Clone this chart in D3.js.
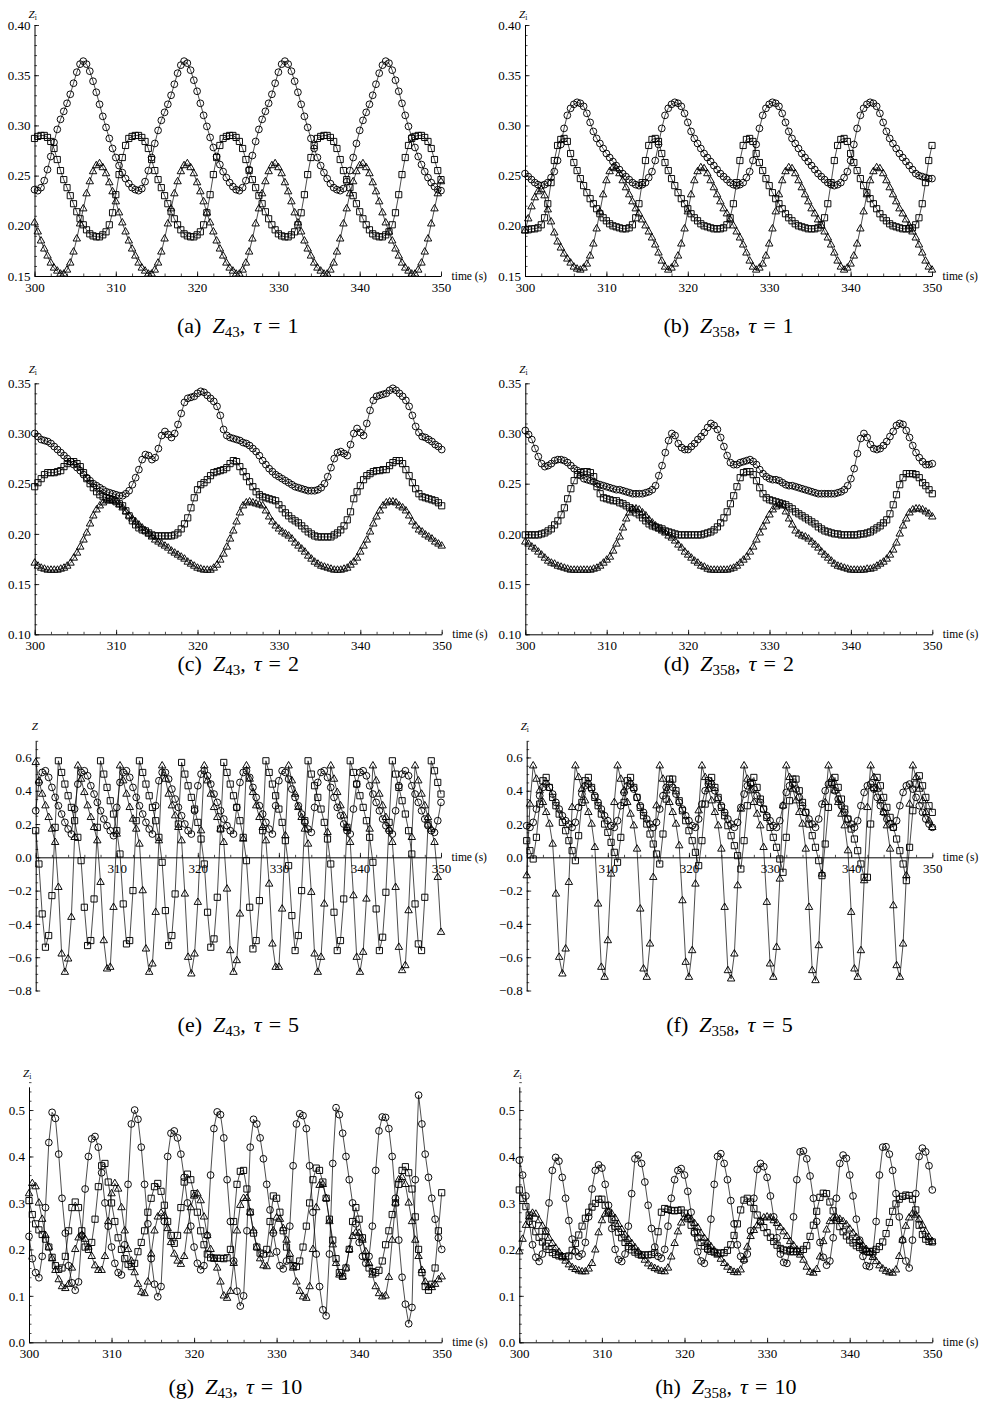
<!DOCTYPE html>
<html lang="en">
<head>
<meta charset="UTF-8">
<title>Z_i time series, tau = 1, 2, 5, 10</title>
<script src="https://cdn.jsdelivr.net/npm/d3@7"></script>
<style>
  body { margin: 0; background: #fff; }
  svg text { fill: #000; }
</style>
</head>
<body>
<svg id="fig" width="984" height="1404"></svg>
<script>
// ---- values, one sample every 0.4 s from 300 s to 350 s ----

const timeTicks = [300, 310, 320, 330, 340, 350];
const ticksTau1 = [0.15, 0.20, 0.25, 0.30, 0.35, 0.40];
const ticksTau2 = [0.10, 0.15, 0.20, 0.25, 0.30, 0.35];
const ticksTau5 = [-0.8, -0.6, -0.4, -0.2, 0.0, 0.2, 0.4, 0.6];
const ticksTau10 = [0.0, 0.1, 0.2, 0.3, 0.4, 0.5];

const captionLetters = ["a", "b", "c", "d", "e", "f", "g", "h"];
const captionNodes = ["43", "358", "43", "358", "43", "358", "43", "358"];
const captionTaus = [1, 1, 2, 2, 5, 5, 10, 10];

// (a) Z43, tau = 1
const aCircle = [
  0.236,0.235,0.238,0.245,0.256,0.269,0.283,0.296,0.306,0.314,0.322,0.331,0.342,0.353,0.361,0.364,0.361,0.354,0.344,0.333,0.321,0.309,0.298,0.287,0.277,0.268,0.260,0.253,0.247,0.242,0.238,
  0.236,0.235,0.237,0.244,0.255,0.268,0.282,0.295,0.305,0.313,0.321,0.330,0.341,0.352,0.360,0.364,0.362,0.355,0.345,0.334,0.322,0.310,0.299,0.288,0.278,0.269,0.261,0.254,0.248,0.243,0.239,
  0.236,0.235,0.238,0.245,0.256,0.270,0.284,0.296,0.306,0.314,0.322,0.331,0.342,0.353,0.361,0.364,0.361,0.354,0.344,0.333,0.321,0.309,0.298,0.287,0.277,0.268,0.260,0.253,0.247,0.242,0.238,
  0.236,0.235,0.237,0.244,0.255,0.268,0.282,0.295,0.305,0.313,0.321,0.330,0.341,0.352,0.360,0.364,0.362,0.355,0.345,0.334,0.322,0.310,0.299,0.288,0.278,0.269,0.261,0.254,0.248,0.243,0.239,
  0.236,0.235
];
const aSquare = [
  0.287,0.289,0.290,0.290,0.288,0.284,0.277,0.266,0.255,0.246,0.238,0.230,0.222,0.214,0.207,0.201,0.196,0.192,0.190,0.189,0.189,0.191,0.194,0.201,0.213,0.231,0.251,0.268,0.280,
  0.287,0.289,0.290,0.290,0.288,0.284,0.277,0.266,0.255,0.246,0.238,0.230,0.222,0.214,0.207,0.201,0.196,0.192,0.190,0.189,0.189,0.191,0.194,0.201,0.213,0.231,0.251,0.268,0.280,
  0.287,0.289,0.290,0.290,0.288,0.284,0.277,0.266,0.255,0.246,0.238,0.230,0.222,0.214,0.207,0.201,0.196,0.192,0.190,0.189,0.189,0.191,0.194,0.201,0.213,0.231,0.251,0.268,0.280,
  0.287,0.289,0.290,0.290,0.288,0.284,0.277,0.266,0.255,0.246,0.238,0.230,0.222,0.214,0.207,0.201,0.196,0.192,0.190,0.189,0.189,0.191,0.194,0.201,0.213,0.231,0.251,0.268,0.280,
  0.287,0.289,0.290,0.290,0.288,0.284,0.277,0.266,0.255,0.246
];
const aTriangle = [
  0.203,0.194,0.185,0.177,0.170,0.163,0.158,0.155,0.152,0.152,0.156,0.163,0.174,0.187,0.202,0.217,0.232,0.244,0.254,0.260,0.262,0.258,0.252,0.243,0.234,0.224,0.213,
  0.203,0.194,0.185,0.177,0.170,0.163,0.158,0.155,0.152,0.152,0.156,0.163,0.174,0.187,0.202,0.217,0.232,0.244,0.254,0.260,0.262,0.258,0.252,0.243,0.234,0.224,0.213,
  0.203,0.194,0.185,0.177,0.170,0.163,0.158,0.155,0.152,0.152,0.156,0.163,0.174,0.187,0.202,0.217,0.232,0.244,0.254,0.260,0.262,0.258,0.252,0.243,0.234,0.224,0.213,
  0.203,0.194,0.185,0.177,0.170,0.163,0.158,0.155,0.152,0.152,0.156,0.163,0.174,0.187,0.202,0.217,0.232,0.244,0.254,0.260,0.262,0.258,0.252,0.243,0.234,0.224,0.213,
  0.203,0.194,0.185,0.177,0.170,0.163,0.158,0.155,0.152,0.152,0.156,0.163,0.174,0.187,0.202,0.217,0.232,0.244
];

// (b) Z358, tau = 1
const bCircle = [
  0.252,0.249,0.246,0.243,0.241,0.240,0.241,0.243,0.248,0.254,0.265,0.281,0.297,0.310,0.317,0.321,0.323,0.322,0.319,0.312,0.303,0.294,0.287,0.282,0.277,0.272,0.268,0.264,0.260,0.256,
  0.252,0.249,0.246,0.243,0.241,0.240,0.241,0.243,0.248,0.254,0.265,0.281,0.297,0.310,0.317,0.321,0.323,0.322,0.319,0.312,0.303,0.294,0.287,0.282,0.277,0.272,0.268,0.264,0.260,0.256,
  0.252,0.249,0.246,0.243,0.241,0.240,0.241,0.243,0.248,0.254,0.265,0.281,0.297,0.310,0.317,0.321,0.323,0.322,0.319,0.312,0.303,0.294,0.287,0.282,0.277,0.272,0.268,0.264,0.260,0.256,
  0.252,0.249,0.246,0.243,0.241,0.240,0.241,0.243,0.248,0.254,0.265,0.281,0.297,0.310,0.317,0.321,0.323,0.322,0.319,0.312,0.303,0.294,0.287,0.282,0.277,0.272,0.268,0.264,0.260,0.256,
  0.252,0.250,0.249,0.248,0.247,0.247
];
const bSquare = [
  0.196,0.196,0.197,0.197,
  0.198,0.201,0.208,0.222,0.243,0.265,0.280,0.286,0.287,0.284,0.272,0.263,0.255,0.247,0.240,0.233,0.227,0.222,0.217,0.212,0.208,0.205,0.202,0.200,0.199,0.198,0.197,0.197,
  0.198,0.201,0.208,0.222,0.243,0.265,0.280,0.286,0.287,0.284,0.272,0.263,0.255,0.247,0.240,0.233,0.227,0.222,0.217,0.212,0.208,0.205,0.202,0.200,0.199,0.198,0.197,0.197,
  0.197,
  0.198,0.201,0.208,0.222,0.243,0.265,0.280,0.286,0.287,0.284,0.272,0.263,0.255,0.247,0.240,0.233,0.227,0.222,0.217,0.212,0.208,0.205,0.202,0.200,0.199,0.198,0.197,0.197,
  0.197,
  0.198,0.201,0.208,0.222,0.243,0.265,0.280,0.286,0.287,0.284,0.272,0.263,0.255,0.247,0.240,0.233,0.227,0.222,0.217,0.212,0.208,0.205,0.202,0.200,0.199,0.198,0.197,0.197,
  0.197,
  0.198,0.201,0.208,0.222,0.243,0.265,0.280
];
const bTriangle = [
  0.195,0.207,0.219,0.228,0.234,0.236,0.230,0.216,0.204,0.193,0.184,0.178,0.172,0.167,0.163,0.159,0.157,
  0.156,0.158,0.162,0.170,0.182,0.197,0.214,0.231,0.245,0.254,0.258,0.257,0.252,0.245,0.238,0.231,0.224,0.217,0.212,0.206,0.200,0.194,0.188,0.181,0.173,0.165,0.159,
  0.156,0.158,0.162,0.170,0.182,0.197,0.214,0.231,0.245,0.254,0.258,0.257,0.252,0.245,0.238,0.231,0.224,0.217,0.212,0.206,0.200,0.194,0.188,0.181,0.173,0.165,0.159,
  0.156,0.158,0.162,0.170,0.182,0.197,0.214,0.231,0.245,0.254,0.258,0.257,0.252,0.245,0.238,0.231,0.224,0.217,0.212,0.206,0.200,0.194,0.188,0.181,0.173,0.165,0.159,
  0.156,0.158,0.162,0.170,0.182,0.197,0.214,0.231,0.245,0.254,0.258,0.257,0.252,0.245,0.238,0.231,0.224,0.217,0.212,0.206,0.200,0.194,0.188,0.181,0.173,0.165,0.159,
  0.156
];

// (c) Z43, tau = 2
const cCircle = [
  0.300,0.297,0.294,0.293,0.292,0.290,0.287,0.284,0.281,0.278,
  0.275,0.272,0.269,0.266,0.263,0.259,0.256,0.253,0.250,0.248,
  0.246,0.244,0.242,0.241,0.240,0.239,0.238,0.238,0.240,0.243,
  0.249,0.256,0.264,0.274,0.279,0.278,0.274,0.276,0.285,0.298,
  0.302,0.299,0.296,0.300,0.309,0.320,0.331,0.335,0.336,0.337,
  0.340,0.342,0.341,0.338,0.335,0.332,0.327,0.318,0.304,0.298,
  0.296,0.295,0.294,0.293,0.291,0.290,0.288,0.285,0.282,0.278,
  0.273,0.269,0.265,0.262,0.259,0.257,0.255,0.253,0.251,0.249,
  0.247,0.246,0.245,0.244,0.243,0.243,0.243,0.244,0.246,0.250,
  0.257,0.266,0.275,0.281,0.282,0.280,0.278,0.289,0.300,0.305,
  0.301,0.298,0.310,0.323,0.333,0.337,0.338,0.339,0.340,0.343,
  0.345,0.343,0.340,0.337,0.333,0.327,0.318,0.307,0.301,0.297,
  0.296,0.294,0.292,0.289,0.287,0.284
];
const cSquare = [
  0.247,0.251,0.255,0.259,0.261,0.261,0.261,0.262,0.263,0.267,
  0.270,0.272,0.272,0.270,0.267,0.261,0.255,0.250,0.246,0.242,
  0.239,0.237,0.236,0.235,0.234,0.232,0.230,0.228,0.223,0.218,
  0.213,0.209,0.206,0.204,0.203,0.201,0.199,0.198,0.198,0.198,
  0.198,0.198,0.198,0.199,0.201,0.205,0.210,0.216,0.226,0.236,
  0.244,0.249,0.251,0.254,0.258,0.261,0.262,0.263,0.264,0.266,
  0.270,0.273,0.272,0.267,0.262,0.257,0.252,0.247,0.242,0.239,
  0.237,0.236,0.235,0.234,0.233,0.229,0.225,0.221,0.218,0.215,
  0.213,0.211,0.208,0.205,0.202,0.200,0.198,0.197,0.197,0.197,
  0.197,0.197,0.199,0.201,0.204,0.208,0.214,0.222,0.235,0.242,
  0.248,0.254,0.258,0.260,0.262,0.263,0.263,0.264,0.264,0.268,
  0.271,0.273,0.273,0.270,0.264,0.258,0.251,0.245,0.240,0.237,
  0.236,0.235,0.234,0.233,0.231,0.228
];
const cTriangle = [
  0.171,0.168,0.166,0.165,0.164,0.164,0.164,0.164,0.165,0.166,
  0.168,0.171,0.176,0.181,0.187,0.194,0.201,0.210,0.218,0.224,
  0.228,0.231,0.233,0.233,0.233,0.232,0.229,0.226,0.222,0.218,
  0.215,0.212,0.209,0.206,0.203,0.200,0.197,0.194,0.192,0.190,
  0.188,0.186,0.183,0.181,0.179,0.177,0.175,0.172,0.170,0.168,
  0.166,0.165,0.164,0.164,0.164,0.166,0.169,0.174,0.180,0.187,
  0.195,0.203,0.212,0.221,0.228,0.231,0.232,0.231,0.230,0.229,
  0.228,0.223,0.217,0.212,0.208,0.205,0.202,0.200,0.198,0.195,
  0.191,0.188,0.185,0.182,0.178,0.175,0.172,0.170,0.168,0.167,
  0.166,0.165,0.164,0.164,0.164,0.165,0.166,0.169,0.172,0.176,
  0.182,0.188,0.194,0.202,0.210,0.217,0.223,0.228,0.231,0.232,
  0.232,0.231,0.228,0.226,0.223,0.218,0.212,0.208,0.204,0.202,
  0.199,0.197,0.195,0.192,0.190,0.188
];

// (d) Z358, tau = 2
const dCircle = [
  0.303,0.299,0.294,0.285,0.277,0.270,0.267,0.268,0.270,0.273,
  0.274,0.274,0.273,0.271,0.268,0.265,0.263,0.258,0.255,0.254,
  0.253,0.252,0.250,0.249,0.248,0.247,0.246,0.245,0.244,0.244,
  0.243,0.242,0.241,0.240,0.240,0.240,0.240,0.241,0.242,0.244,
  0.248,0.258,0.268,0.281,0.293,0.300,0.298,0.290,0.286,0.284,
  0.284,0.287,0.290,0.294,0.297,0.301,0.306,0.310,0.308,0.304,
  0.296,0.287,0.278,0.271,0.269,0.269,0.271,0.272,0.273,0.274,
  0.272,0.269,0.264,0.260,0.257,0.255,0.254,0.254,0.253,0.251,
  0.249,0.248,0.248,0.247,0.246,0.245,0.244,0.243,0.242,0.241,
  0.240,0.240,0.240,0.240,0.240,0.240,0.241,0.242,0.244,0.248,
  0.255,0.265,0.280,0.295,0.300,0.296,0.289,0.285,0.284,0.285,
  0.288,0.292,0.297,0.302,0.308,0.310,0.309,0.303,0.296,0.288,
  0.281,0.276,0.272,0.269,0.269,0.270
];
const dSquare = [
  0.199,0.199,0.199,0.199,0.199,0.200,0.201,0.203,0.205,0.209,
  0.213,0.219,0.226,0.235,0.245,0.253,0.259,0.261,0.262,0.262,
  0.261,0.257,0.247,0.240,0.236,0.235,0.234,0.233,0.233,0.231,
  0.230,0.228,0.226,0.224,0.221,0.219,0.216,0.213,0.210,0.208,
  0.207,0.206,0.205,0.203,0.202,0.201,0.200,0.199,0.199,0.199,
  0.199,0.199,0.199,0.199,0.199,0.200,0.201,0.202,0.204,0.207,
  0.211,0.216,0.222,0.230,0.238,0.247,0.256,0.261,0.262,0.262,
  0.259,0.253,0.246,0.240,0.236,0.234,0.233,0.232,0.231,0.230,
  0.229,0.227,0.225,0.222,0.220,0.218,0.216,0.214,0.212,0.210,
  0.207,0.205,0.203,0.202,0.201,0.200,0.200,0.199,0.199,0.199,
  0.199,0.199,0.199,0.200,0.200,0.201,0.202,0.204,0.206,0.208,
  0.211,0.214,0.220,0.229,0.239,0.249,0.256,0.260,0.260,0.260,
  0.259,0.256,0.251,0.248,0.244,0.240
];
const dTriangle = [
  0.192,0.190,0.187,0.185,0.182,0.179,0.176,0.173,0.171,0.170,
  0.168,0.167,0.166,0.165,0.164,0.164,0.164,0.164,0.164,0.164,
  0.164,0.165,0.166,0.168,0.171,0.174,0.177,0.183,0.190,0.197,
  0.206,0.215,0.221,0.225,0.225,0.224,0.221,0.218,0.214,0.211,
  0.208,0.205,0.203,0.201,0.198,0.196,0.193,0.189,0.186,0.182,
  0.179,0.176,0.173,0.171,0.168,0.167,0.165,0.164,0.164,0.164,
  0.164,0.164,0.164,0.165,0.166,0.168,0.171,0.174,0.177,0.182,
  0.187,0.194,0.201,0.207,0.213,0.219,0.224,0.227,0.229,0.228,
  0.222,0.215,0.209,0.203,0.200,0.198,0.197,0.195,0.192,0.189,
  0.186,0.182,0.179,0.176,0.173,0.170,0.168,0.167,0.166,0.165,
  0.164,0.164,0.164,0.164,0.164,0.165,0.165,0.166,0.168,0.170,
  0.172,0.175,0.179,0.184,0.191,0.200,0.208,0.215,0.221,0.224,
  0.225,0.225,0.224,0.222,0.220,0.217
];

// (e) Z43, tau = 5
const eCircle = [
  0.28,0.45,0.51,0.52,0.48,0.42,0.36,0.31,0.26,0.21,0.17,
  0.14,0.29,0.44,0.51,0.52,0.49,0.43,0.38,0.33,0.28,0.23,0.19,0.16,
  0.13,0.30,0.45,0.51,0.52,0.48,0.42,0.36,0.31,0.26,0.21,0.17,
  0.14,0.31,0.46,0.51,0.51,0.47,0.41,0.35,0.30,0.25,0.20,0.16,
  0.14,0.28,0.43,0.50,0.52,0.49,0.44,0.38,0.33,0.28,0.23,0.19,0.16,
  0.14,0.30,0.45,0.51,0.52,0.48,0.42,0.36,0.31,0.26,0.21,0.17,
  0.14,0.31,0.46,0.52,0.51,0.47,0.41,0.36,0.31,0.26,0.21,0.17,
  0.15,0.30,0.45,0.51,0.52,0.48,0.42,0.36,0.30,0.25,0.20,0.16,
  0.14,0.29,0.44,0.51,0.52,0.49,0.43,0.38,0.33,0.28,0.23,0.19,0.16,
  0.14,0.28,0.43,0.50,0.52,0.49,0.43,0.38,0.33,0.28,0.23,0.19,0.16,
  0.15,0.22,0.33
];
const eSquare = [
  0.16,-0.04,-0.34,-0.54,-0.47,-0.23,0.18,
  0.58,0.51,0.44,0.37,0.30,0.22,0.12,-0.02,-0.30,-0.53,-0.50,-0.25,0.18,
  0.58,0.50,0.42,0.34,0.26,0.16,0.02,-0.28,-0.52,-0.50,-0.20,0.22,
  0.58,0.51,0.44,0.37,0.30,0.22,0.12,-0.03,-0.32,-0.53,-0.47,-0.22,0.20,
  0.57,0.50,0.43,0.36,0.29,0.21,0.11,-0.04,-0.33,-0.54,-0.49,-0.24,0.17,
  0.57,0.51,0.44,0.37,0.30,0.22,0.12,-0.02,-0.30,-0.55,-0.50,-0.26,0.16,
  0.58,0.51,0.44,0.37,0.29,0.21,0.10,-0.05,-0.35,-0.56,-0.47,-0.20,0.22,
  0.58,0.50,0.43,0.36,0.29,0.21,0.11,-0.04,-0.33,-0.56,-0.50,-0.25,0.18,
  0.58,0.51,0.44,0.37,0.30,0.22,0.12,-0.03,-0.31,-0.56,-0.48,-0.21,0.21,
  0.58,0.50,0.42,0.34,0.26,0.16,0.02,-0.28,-0.52,-0.56,-0.24,0.20,
  0.58,0.52,0.45,0.38
];
const eTriangle = [
  0.57,0.46,0.38,0.31,0.24,0.17,0.09,-0.18,-0.58,-0.69,-0.61,-0.36,0.12,
  0.55,0.47,0.39,0.31,0.24,0.18,0.10,-0.15,-0.50,-0.67,-0.66,-0.30,0.14,
  0.55,0.46,0.38,0.30,0.23,0.17,0.08,-0.20,-0.55,-0.69,-0.64,-0.33,0.10,
  0.55,0.47,0.38,0.31,0.25,0.18,0.10,-0.22,-0.60,-0.70,-0.58,-0.27,0.16,
  0.55,0.46,0.38,0.30,0.24,0.17,0.09,-0.19,-0.56,-0.69,-0.62,-0.34,0.11,
  0.55,0.47,0.39,0.31,0.24,0.18,0.10,-0.16,-0.52,-0.66,-0.66,-0.31,0.13,
  0.55,0.46,0.38,0.30,0.24,0.17,0.08,-0.21,-0.58,-0.69,-0.60,-0.28,0.15,
  0.55,0.47,0.39,0.31,0.25,0.18,0.09,-0.23,-0.60,-0.69,-0.57,-0.25,0.17,
  0.55,0.46,0.38,0.31,0.24,0.17,0.09,-0.18,-0.54,-0.68,-0.65,-0.32,0.12,
  0.55,0.46,0.38,0.31,0.24,0.17,0.09,-0.12,-0.45
];

// (f) Z358, tau = 5
const fCircle = [
  0.19,
  0.18,0.21,0.29,0.37,0.42,0.44,0.42,0.38,0.33,0.29,0.25,0.22,0.20,
  0.18,0.21,0.30,0.38,0.43,0.44,0.41,0.37,0.33,0.29,0.25,0.22,0.19,
  0.18,0.22,0.31,0.39,0.43,0.44,0.41,0.36,0.31,0.27,0.23,0.20,
  0.18,0.21,0.29,0.37,0.42,0.44,0.42,0.38,0.33,0.29,0.25,0.22,0.19,
  0.18,0.23,0.32,0.40,0.44,0.44,0.40,0.35,0.31,0.27,0.23,0.20,
  0.18,0.21,0.30,0.38,0.43,0.44,0.41,0.37,0.33,0.29,0.25,0.22,0.19,
  0.18,0.22,0.31,0.39,0.43,0.44,0.41,0.36,0.31,0.27,0.23,0.20,
  0.18,0.23,0.32,0.40,0.44,0.44,0.40,0.35,0.31,0.27,0.23,0.20,
  0.18,0.22,0.31,0.39,0.43,0.44,0.41,0.36,0.31,0.27,0.23,0.20,
  0.18,0.22,0.31,0.39,0.43,0.44,0.41,0.36,0.31,0.27,0.23,0.20,
  0.18
];
const fSquare = [
  0.10,0.04,
  -0.01,0.12,0.32,0.46,0.48,0.42,0.36,0.31,0.26,0.21,0.16,0.10,0.04,
  -0.02,0.13,0.33,0.46,0.48,0.42,0.36,0.31,0.26,0.20,0.15,0.09,0.03,
  -0.03,0.12,0.33,0.46,0.48,0.42,0.36,0.30,0.25,0.20,0.14,0.08,0.02,
  -0.04,0.14,0.35,0.47,0.47,0.40,0.34,0.28,0.22,0.16,0.10,0.03,
  -0.05,0.10,0.32,0.46,0.48,0.42,0.36,0.30,0.25,0.19,0.13,0.07,0.01,
  -0.07,0.10,0.31,0.45,0.48,0.42,0.35,0.29,0.24,0.18,0.12,0.06,-0.01,
  -0.09,0.12,0.34,0.47,0.47,0.40,0.33,0.27,0.20,0.13,0.06,-0.02,
  -0.11,0.08,0.30,0.45,0.48,0.42,0.35,0.29,0.23,0.17,0.11,0.04,-0.04,
  -0.12,-0.12,0.20,0.42,0.48,0.43,0.36,0.30,0.24,0.18,0.11,0.04,-0.04,
  -0.14,0.06,0.28,0.44,0.49,0.43,0.36,0.31,0.27
];
const fTriangle = [
  -0.11,0.32,
  0.55,0.47,0.40,0.33,0.27,0.20,0.08,-0.22,-0.60,-0.70,-0.55,-0.15,0.30,
  0.55,0.48,0.41,0.34,0.27,0.20,0.06,-0.28,-0.66,-0.72,-0.50,-0.10,0.33,
  0.55,0.47,0.40,0.33,0.26,0.19,0.05,-0.31,-0.67,-0.72,-0.52,-0.12,0.31,
  0.55,0.47,0.40,0.33,0.27,0.20,0.07,-0.26,-0.63,-0.72,-0.56,-0.16,0.28,
  0.55,0.48,0.41,0.34,0.27,0.19,0.05,-0.30,-0.68,-0.73,-0.58,-0.17,0.29,
  0.55,0.47,0.40,0.33,0.26,0.19,0.06,-0.27,-0.64,-0.72,-0.54,-0.13,0.31,
  0.55,0.48,0.41,0.34,0.27,0.20,0.05,-0.30,-0.68,-0.74,-0.53,-0.10,0.33,
  0.55,0.47,0.40,0.33,0.26,0.19,0.04,-0.33,-0.67,-0.72,-0.56,-0.14,0.30,
  0.55,0.48,0.41,0.34,0.27,0.19,0.05,-0.29,-0.65,-0.72,-0.52,-0.11,0.32,
  0.55,0.48,0.41,0.34,0.27,0.22,0.18
];

// (g) Z43, tau = 10
const gCircle = [
  0.228,0.180,0.150,0.139,0.185,0.290,0.430,0.495,0.482,0.405,
  0.310,0.235,0.165,0.128,0.112,0.130,0.230,0.330,0.400,0.438,
  0.443,0.420,0.365,0.300,0.250,0.205,0.170,0.150,0.145,0.210,
  0.340,0.470,0.500,0.480,0.420,0.340,0.255,0.180,0.125,0.098,
  0.120,0.260,0.400,0.450,0.455,0.440,0.405,0.355,0.300,0.250,
  0.205,0.170,0.156,0.165,0.230,0.360,0.460,0.496,0.490,0.440,
  0.350,0.260,0.175,0.110,0.078,0.100,0.240,0.420,0.480,0.470,
  0.440,0.395,0.340,0.285,0.235,0.195,0.165,0.158,0.175,0.250,
  0.380,0.470,0.492,0.488,0.460,0.380,0.280,0.190,0.120,0.070,
  0.057,0.190,0.385,0.505,0.490,0.450,0.400,0.350,0.300,0.255,
  0.215,0.185,0.170,0.185,0.250,0.370,0.455,0.485,0.484,0.460,
  0.400,0.310,0.220,0.140,0.082,0.040,0.075,0.350,0.532,0.470,
  0.405,0.355,0.310,0.265,0.225,0.200
];
const gSquare = [
  0.305,0.275,0.255,0.242,0.232,0.222,0.205,0.183,0.165,0.157,
  0.160,0.185,0.240,0.290,0.302,0.290,0.240,0.205,0.200,0.215,
  0.265,0.335,0.380,0.385,0.345,0.300,0.260,0.225,0.200,0.180,
  0.168,0.163,0.170,0.195,0.215,0.240,0.280,0.310,0.335,0.342,
  0.325,0.295,0.260,0.230,0.213,0.230,0.290,0.345,0.362,0.350,
  0.320,0.280,0.240,0.210,0.190,0.182,0.181,0.181,0.181,0.180,
  0.182,0.200,0.260,0.340,0.368,0.370,0.330,0.280,0.235,0.205,
  0.192,0.190,0.200,0.260,0.315,0.310,0.280,0.240,0.205,0.178,
  0.165,0.163,0.175,0.205,0.250,0.300,0.350,0.375,0.370,0.345,
  0.310,0.265,0.220,0.180,0.150,0.142,0.160,0.200,0.260,0.290,
  0.265,0.225,0.185,0.160,0.152,0.150,0.155,0.175,0.210,0.240,
  0.275,0.300,0.340,0.370,0.378,0.365,0.330,0.270,0.200,0.150,
  0.120,0.112,0.125,0.160,0.240,0.322
];
const gTriangle = [
  0.320,0.342,0.335,0.300,0.265,0.230,0.205,0.180,0.155,0.135,
  0.120,0.116,0.125,0.160,0.200,0.225,0.231,0.222,0.205,0.185,
  0.165,0.155,0.155,0.185,0.260,0.320,0.342,0.330,0.290,0.240,
  0.200,0.175,0.150,0.125,0.108,0.105,0.130,0.190,0.240,0.270,
  0.278,0.272,0.245,0.215,0.190,0.175,0.168,0.185,0.240,0.290,
  0.315,0.320,0.305,0.270,0.230,0.200,0.180,0.160,0.130,0.100,
  0.095,0.110,0.170,0.240,0.295,0.310,0.310,0.280,0.240,0.205,
  0.180,0.165,0.163,0.190,0.240,0.268,0.265,0.245,0.220,0.190,
  0.160,0.130,0.110,0.098,0.095,0.120,0.200,0.290,0.338,0.340,
  0.310,0.260,0.210,0.170,0.145,0.141,0.160,0.200,0.228,0.236,
  0.235,0.220,0.195,0.170,0.145,0.120,0.105,0.098,0.100,0.140,
  0.220,0.300,0.350,0.355,0.340,0.300,0.260,0.220,0.185,0.155,
  0.130,0.118,0.118,0.125,0.135,0.141
];

// (h) Z358, tau = 10
const hCircle = [
  0.392,0.360,0.315,0.260,0.210,0.183,0.174,0.190,0.240,0.300,
  0.370,0.398,0.390,0.355,0.310,0.262,0.222,0.195,0.185,0.190,
  0.215,0.270,0.330,0.370,0.382,0.375,0.340,0.295,0.245,0.200,
  0.178,0.174,0.190,0.250,0.320,0.395,0.403,0.385,0.345,0.295,
  0.245,0.205,0.185,0.181,0.200,0.250,0.310,0.350,0.370,0.374,
  0.360,0.325,0.280,0.235,0.195,0.175,0.170,0.200,0.265,0.340,
  0.400,0.406,0.385,0.350,0.305,0.255,0.210,0.185,0.177,0.190,
  0.240,0.310,0.372,0.385,0.378,0.355,0.315,0.270,0.225,0.190,
  0.172,0.170,0.200,0.270,0.350,0.410,0.412,0.395,0.358,0.310,
  0.260,0.215,0.183,0.166,0.175,0.225,0.310,0.385,0.403,0.396,
  0.360,0.315,0.265,0.220,0.185,0.165,0.163,0.190,0.260,0.360,
  0.420,0.421,0.405,0.370,0.320,0.270,0.220,0.175,0.160,0.220,
  0.320,0.400,0.418,0.410,0.380,0.328
];
const hSquare = [
  0.328,0.310,0.292,0.274,0.254,0.238,0.226,0.216,0.207,0.200,
  0.193,0.189,0.186,0.184,0.184,0.186,0.198,0.213,0.231,0.250,
  0.267,0.280,0.291,0.299,0.308,0.308,0.295,0.280,0.265,0.250,
  0.237,0.225,0.215,0.206,0.199,0.194,0.190,0.188,0.188,0.188,
  0.189,0.193,0.238,0.280,0.288,0.286,0.284,0.283,0.284,0.285,
  0.278,0.266,0.252,0.238,0.225,0.215,0.207,0.201,0.196,0.194,
  0.192,0.192,0.193,0.198,0.210,0.230,0.255,0.285,0.306,0.310,
  0.302,0.288,0.274,0.260,0.247,0.236,0.226,0.217,0.209,0.202,
  0.199,0.197,0.195,0.195,0.195,0.196,0.200,0.208,0.228,0.252,
  0.282,0.312,0.321,0.320,0.302,0.283,0.263,0.249,0.238,0.229,
  0.220,0.214,0.208,0.204,0.200,0.196,0.195,0.196,0.200,0.206,
  0.216,0.234,0.258,0.282,0.298,0.308,0.314,0.317,0.316,0.308,
  0.285,0.252,0.232,0.222,0.217,0.216
];
const hTriangle = [
  0.195,0.222,0.252,0.270,0.278,0.276,0.262,0.250,0.237,0.224,
  0.213,0.203,0.194,0.185,0.175,0.167,0.161,0.157,0.154,0.152,
  0.152,0.158,0.170,0.199,0.236,0.262,0.276,0.281,0.276,0.267,
  0.254,0.243,0.231,0.222,0.213,0.204,0.195,0.186,0.177,0.169,
  0.163,0.159,0.156,0.153,0.152,0.160,0.184,0.213,0.238,0.257,
  0.268,0.270,0.265,0.256,0.247,0.234,0.224,0.215,0.206,0.197,
  0.188,0.179,0.170,0.162,0.155,0.151,0.150,0.156,0.178,0.205,
  0.228,0.241,0.251,0.261,0.268,0.270,0.268,0.262,0.256,0.247,
  0.238,0.228,0.217,0.208,0.199,0.188,0.177,0.162,0.151,0.149,
  0.157,0.184,0.217,0.242,0.260,0.267,0.268,0.265,0.260,0.253,
  0.244,0.235,0.226,0.217,0.208,0.200,0.192,0.183,0.174,0.165,
  0.158,0.153,0.150,0.149,0.156,0.185,0.220,0.250,0.268,0.277,
  0.274,0.265,0.252,0.238,0.226,0.217
];

// ---- drawing ----

const serif = "'Liberation Serif', 'Times New Roman', serif";
const svg = d3.select("#fig");

const symbolTypes = { circle: d3.symbolCircle, square: d3.symbolSquare, triangle: d3.symbolTriangle };
const symbolSizes = { circle: 36, square: 38, triangle: 24 };

function minorRange(lo, hi, step) {
  const n = Math.round((hi - lo) / step);
  return d3.range(n + 1).map(k => +(lo + k * step).toFixed(4));
}

const panels = [
  { series: [aCircle, aSquare, aTriangle], x0: 34.5, x1: 441, yDomain: [0.15, 0.40], yRange: [276, 25],
    xAxisAt: 0.15, yTicks: ticksTau1, minor: 0.01, fmt: ".2f", zSub: "i", zDy: -7, hide300: false },
  { series: [bCircle, bSquare, bTriangle], x0: 525, x1: 932, yDomain: [0.15, 0.40], yRange: [276, 25],
    xAxisAt: 0.15, yTicks: ticksTau1, minor: 0.01, fmt: ".2f", zSub: "i", zDy: -7, hide300: false },
  { series: [cCircle, cSquare, cTriangle], x0: 34.7, x1: 441.7, yDomain: [0.10, 0.35], yRange: [634.3, 383.3],
    xAxisAt: 0.10, yTicks: ticksTau2, minor: 0.01, fmt: ".2f", zSub: "i", zDy: -10, hide300: false },
  { series: [dCircle, dSquare, dTriangle], x0: 525.3, x1: 932.3, yDomain: [0.10, 0.35], yRange: [634.3, 383.3],
    xAxisAt: 0.10, yTicks: ticksTau2, minor: 0.01, fmt: ".2f", zSub: "i", zDy: -10, hide300: false },
  { series: [eCircle, eSquare, eTriangle], x0: 35.7, x1: 441, yDomain: [-0.8, 0.7], yRange: [990.5, 740.8],
    xAxisAt: 0, yTicks: ticksTau5, minor: 0.05, fmt: ".1f", zSub: "", zDy: -10.5, hide300: true },
  { series: [fCircle, fSquare, fTriangle], x0: 526.7, x1: 932.3, yDomain: [-0.8, 0.7], yRange: [990.5, 740.8],
    xAxisAt: 0, yTicks: ticksTau5, minor: 0.05, fmt: ".1f", zSub: "i", zDy: -10.5, hide300: true },
  { series: [gCircle, gSquare, gTriangle], x0: 29, x1: 441.7, yDomain: [0, 0.55], yRange: [1342.3, 1086.8],
    xAxisAt: 0, yTicks: ticksTau10, minor: 0.02, fmt: ".1f", zSub: "i", zDy: -10, hide300: false },
  { series: [hCircle, hSquare, hTriangle], x0: 519.3, x1: 932.3, yDomain: [0, 0.55], yRange: [1342.3, 1086.8],
    xAxisAt: 0, yTicks: ticksTau10, minor: 0.02, fmt: ".1f", zSub: "i", zDy: -10, hide300: false }
];
const captionBaselines = [333, 333, 671, 671, 1032, 1032, 1394, 1394];
const kinds = ["circle", "square", "triangle"];

function drawSeries(root, x, y, values, kind) {
  const step = (350 - 300) / (values.length - 1);
  const pts = values.map((v, i) => ({ t: 300 + i * step, v: v }));
  root.append("path").datum(pts)
    .attr("fill", "none").attr("stroke", "#000").attr("stroke-width", 0.7)
    .attr("d", d3.line().x(d => x(d.t)).y(d => y(d.v)));
  root.append("g")
    .attr("fill", "none").attr("stroke", "#000").attr("stroke-width", 0.95)
    .selectAll("path").data(pts).join("path")
    .attr("transform", d => `translate(${x(d.t)},${y(d.v)})`)
    .attr("d", d3.symbol().type(symbolTypes[kind]).size(symbolSizes[kind]));
}

function drawPanel(p, idx) {
  const x = d3.scaleLinear().domain([300, 350]).range([p.x0, p.x1]);
  const y = d3.scaleLinear().domain(p.yDomain).range(p.yRange);
  const root = svg.append("g");
  const axisY = y(p.xAxisAt);
  const top = y(p.yDomain[1]);

  // minor ticks
  root.append("g").attr("transform", `translate(${p.x0},0)`)
    .call(d3.axisLeft(y).tickValues(minorRange(p.yDomain[0], p.yDomain[1], p.minor))
      .tickSize(-2.5).tickSizeOuter(0).tickFormat(""))
    .call(g => g.select(".domain").remove())
    .selectAll("line").attr("stroke-width", 0.7);
  root.append("g").attr("transform", `translate(0,${axisY})`)
    .call(d3.axisBottom(x).tickValues(d3.range(300, 351, 2))
      .tickSize(-2.5).tickSizeOuter(0).tickFormat(""))
    .call(g => g.select(".domain").remove())
    .selectAll("line").attr("stroke-width", 0.7);

  // major ticks and labels
  const yAx = root.append("g").attr("transform", `translate(${p.x0},0)`)
    .call(d3.axisLeft(y).tickValues(p.yTicks).tickSize(-4.5).tickSizeOuter(0)
      .tickPadding(4).tickFormat(d3.format(p.fmt)))
    .attr("font-size", 13).attr("font-family", serif);
  const xAx = root.append("g").attr("transform", `translate(0,${axisY})`)
    .call(d3.axisBottom(x).tickValues(timeTicks).tickSize(-4.5).tickSizeOuter(0)
      .tickPadding(6.5).tickFormat(d => (p.hide300 && d === 300) ? "" : d))
    .attr("font-size", 13).attr("font-family", serif);
  [yAx, xAx].forEach(a => {
    a.selectAll("line").attr("stroke-width", 0.8);
    a.select(".domain").attr("stroke-width", 1);
  });

  // series
  p.series.forEach((vals, k) => drawSeries(root, x, y, vals, kinds[k]));

  // axis names
  root.append("text")
    .attr("x", p.x1 + 10.5).attr("y", axisY + 4)
    .attr("font-family", serif).attr("font-size", 11.5)
    .text("time (s)");
  const zl = root.append("text")
    .attr("x", p.x0 - (p.zSub ? 6 : 4)).attr("y", top + p.zDy)
    .attr("font-family", serif).attr("font-size", 11);
  zl.append("tspan").attr("font-style", "italic").text("Z");
  if (p.zSub) zl.append("tspan").attr("font-size", 7.5).attr("dy", 2).text(p.zSub);

  // caption
  const cap = svg.append("text")
    .attr("x", (p.x0 + p.x1) / 2).attr("y", captionBaselines[idx])
    .attr("text-anchor", "middle")
    .attr("font-family", serif).attr("font-size", 22);
  cap.append("tspan").text(`(${captionLetters[idx]})`);
  cap.append("tspan").attr("dx", 11).attr("font-style", "italic").text("Z");
  cap.append("tspan").attr("font-size", 15).attr("dy", 4).text(captionNodes[idx]);
  cap.append("tspan").attr("dy", -4).text(",");
  cap.append("tspan").attr("dx", 8).attr("font-style", "italic").text("τ");
  cap.append("tspan").attr("dx", 7).text("=");
  cap.append("tspan").attr("dx", 7).text(captionTaus[idx]);
}

panels.forEach(drawPanel);
</script>
</body>
</html>
